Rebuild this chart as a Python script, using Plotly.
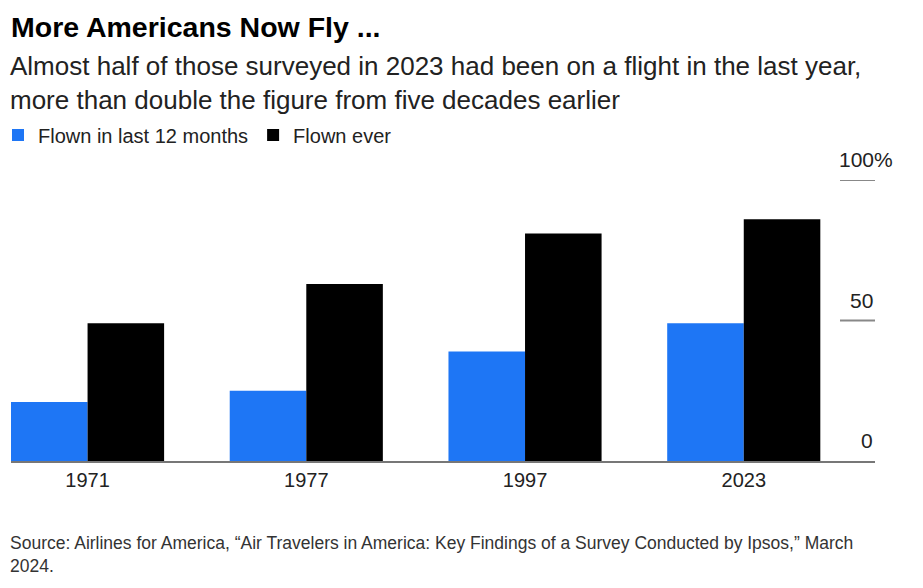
import plotly.graph_objects as go

# data
years = ["1971", "1977", "1997", "2023"]
flown_last_12 = [21, 25, 39, 49]
flown_ever = [49, 63, 81, 86]
y_ticks = [0, 50, 100]
y_tick_text = ["0", "50", "100%"]

# the page body has an 8px margin, so the figure is drawn 8px in from the corner
OFF = 8
W, H = 923 - OFF, 588 - OFF
PLOT_L, PLOT_R, PLOT_T, PLOT_B = 11, 875, 180, 461.5  # in page pixels
M_L, M_R = PLOT_L - OFF, W - (PLOT_R - OFF)
M_T, M_B = PLOT_T - OFF, H - (PLOT_B - OFF)
plot_h = H - M_T - M_B
plot_w = W - M_L - M_R


def py(pix):
    # page pixel row -> paper y
    return (PLOT_B - pix) / plot_h


def px(pix):
    return (pix - PLOT_L) / plot_w


BLUE = "#1e76f5"
FONT = "Liberation Sans, Arial, sans-serif"

fig = go.Figure()
fig.add_bar(x=years, y=flown_last_12, name="Flown in last 12 months",
            marker=dict(color=BLUE, line=dict(width=0)))
fig.add_bar(x=years, y=flown_ever, name="Flown ever",
            marker=dict(color="black", line=dict(width=0)))

fig.update_layout(
    width=W, height=H,
    margin=dict(l=M_L, r=M_R, t=M_T, b=M_B, autoexpand=False),
    paper_bgcolor="white", plot_bgcolor="white",
    barmode="group", bargap=0.3, bargroupgap=0,
    font=dict(family=FONT, color="#222", size=20),
    title=dict(text="<b>More Americans Now Fly ...</b>",
               font=dict(size=28.5, color="black", family=FONT),
               xref="container", x=(11 - OFF) / W, xanchor="left",
               yref="container", y=1 - (27 - OFF) / H, yanchor="middle"),
    showlegend=True,
    legend=dict(orientation="h", x=px(-2), xanchor="left",
                y=py(135), yanchor="middle",
                font=dict(size=20, color="#222"),
                itemclick=False, traceorder="normal",
                bgcolor="rgba(0,0,0,0)"),
)

fig.update_xaxes(range=[-0.35, 3.6], showgrid=False, zeroline=False,
                 showline=True, linecolor="#777", linewidth=2,
                 ticks="", tickfont=dict(size=20, color="#222"))
fig.update_yaxes(range=[0, 100], showgrid=False, zeroline=False,
                 showticklabels=False, fixedrange=True)

fig.add_annotation(
    text="Almost half of those surveyed in 2023 had been on a flight in the last year,<br>"
         "more than double the figure from five decades earlier",
    xref="paper", yref="paper", x=px(8), y=py(49), xanchor="left", yanchor="top",
    align="left", showarrow=False, font=dict(size=26, color="#222"))

# right-hand value labels sitting above short tick lines
for v, t in zip(y_ticks, y_tick_text):
    fig.add_annotation(text=t, xref="paper", yref="y", x=1, y=v,
                       xanchor="right", yanchor="bottom", yshift=7,
                       xshift=20 if t.endswith("%") else 0,
                       showarrow=False, font=dict(size=21, color="#222"))
    if v > 0:
        fig.add_shape(type="line", xref="paper", yref="y",
                      x0=px(840), x1=1, y0=v, y1=v,
                      line=dict(color="#888", width=2))

fig.add_annotation(
    text="Source: Airlines for America, \u201cAir Travelers in America: Key Findings of a Survey "
         "Conducted by Ipsos,\u201d March<br>2024.",
    xref="paper", yref="paper", x=px(8), y=py(532), xanchor="left", yanchor="top",
    align="left", showarrow=False,
    font=dict(size=17.5, color="#333", family=FONT))

fig.write_html("out.html")
